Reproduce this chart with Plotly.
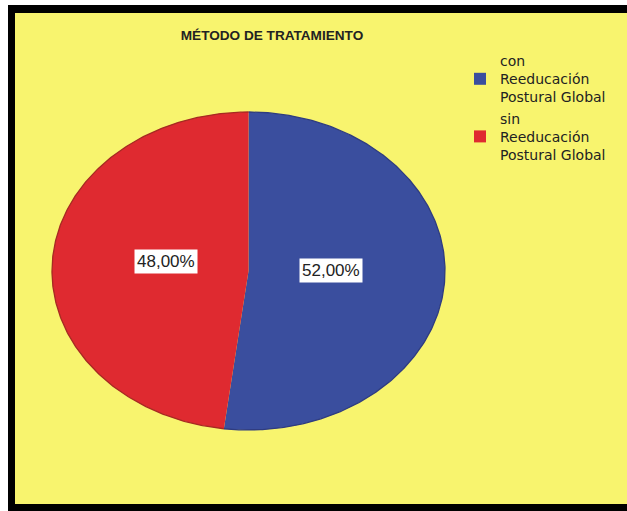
import numpy as np
import plotly.graph_objects as go

# ---- data ----
categories = ["con<br>Reeducación<br>Postural Global", "sin<br>Reeducación<br>Postural Global"]
percentages = [52.0, 48.0]
title_text = "MÉTODO DE TRATAMIENTO"

# ---- style ----
colors = ["#3A4E9E", "#DF2A30"]
rim_colors = ["#2f3c80", "#a62a22"]
YELLOW = "#F8F46E"
W, H = 627, 511
CX, CY, RX, RY = 248.5, 271.0, 196.5, 159.0
LABEL_K = 0.42

fig = go.Figure()

total = sum(percentages)
start = 0.0
for name, val, col, rim in zip(categories, percentages, colors, rim_colors):
    frac = val / total
    t = np.linspace(start, start + frac, 300) * 2 * np.pi  # clockwise from top
    ax = CX + RX * np.sin(t)
    ay = CY - RY * np.cos(t)
    xs = np.concatenate([[CX], ax, [CX]])
    ys = np.concatenate([[CY], ay, [CY]])
    fig.add_trace(go.Scatter(x=xs, y=ys, mode="lines", fill="toself", fillcolor=col,
                             line=dict(width=0, color=col), showlegend=False, hoverinfo="skip"))
    fig.add_trace(go.Scatter(x=ax, y=ay, mode="lines", line=dict(width=1.3, color=rim),
                             showlegend=False, hoverinfo="skip"))
    # legend swatch
    fig.add_trace(go.Scatter(x=[None], y=[None], mode="markers", name=name,
                             marker=dict(symbol="square", size=12, color=col)))
    # value label
    mid = (start + frac / 2) * 2 * np.pi
    lx = CX + RX * LABEL_K * np.sin(mid)
    ly = CY - RY * LABEL_K * np.cos(mid)
    fig.add_annotation(x=lx, y=ly, xref="x", yref="y", showarrow=False, yshift=5,
                       text=f"{val:.2f}".replace(".", ",") + "%",
                       font=dict(family="Arial", size=17, color="#222222"),
                       bgcolor="white", borderpad=2)
    start += frac

# frame
fig.add_shape(type="rect", xref="x", yref="y", x0=8, x1=W + 20, y0=5, y1=H + 20,
              fillcolor="black", line=dict(width=0), layer="below")
fig.add_shape(type="rect", xref="x", yref="y", x0=15, x1=W + 20, y0=13, y1=504,
              fillcolor=YELLOW, line=dict(width=0), layer="below")

fig.update_layout(
    width=W, height=H,
    margin=dict(l=0, r=0, t=0, b=0),
    paper_bgcolor="white",
    plot_bgcolor="rgba(0,0,0,0)",
    xaxis=dict(range=[0, W], visible=False, fixedrange=True),
    yaxis=dict(range=[H, 0], visible=False, fixedrange=True),
    title=dict(text=f"<b>{title_text}</b>", x=272 / W, xanchor="center",
               y=1 - 35 / H, yanchor="middle",
               font=dict(family="Arial", size=13.6, color="#222222")),
    legend=dict(x=460 / W, xanchor="left", y=1 - 45 / H, yanchor="top",
                bgcolor="rgba(0,0,0,0)", borderwidth=0,
                font=dict(family="DejaVu Sans", size=14, color="#222222"),
                tracegroupgap=0, itemwidth=30),
    showlegend=True,
)

fig.write_html("out.html")
